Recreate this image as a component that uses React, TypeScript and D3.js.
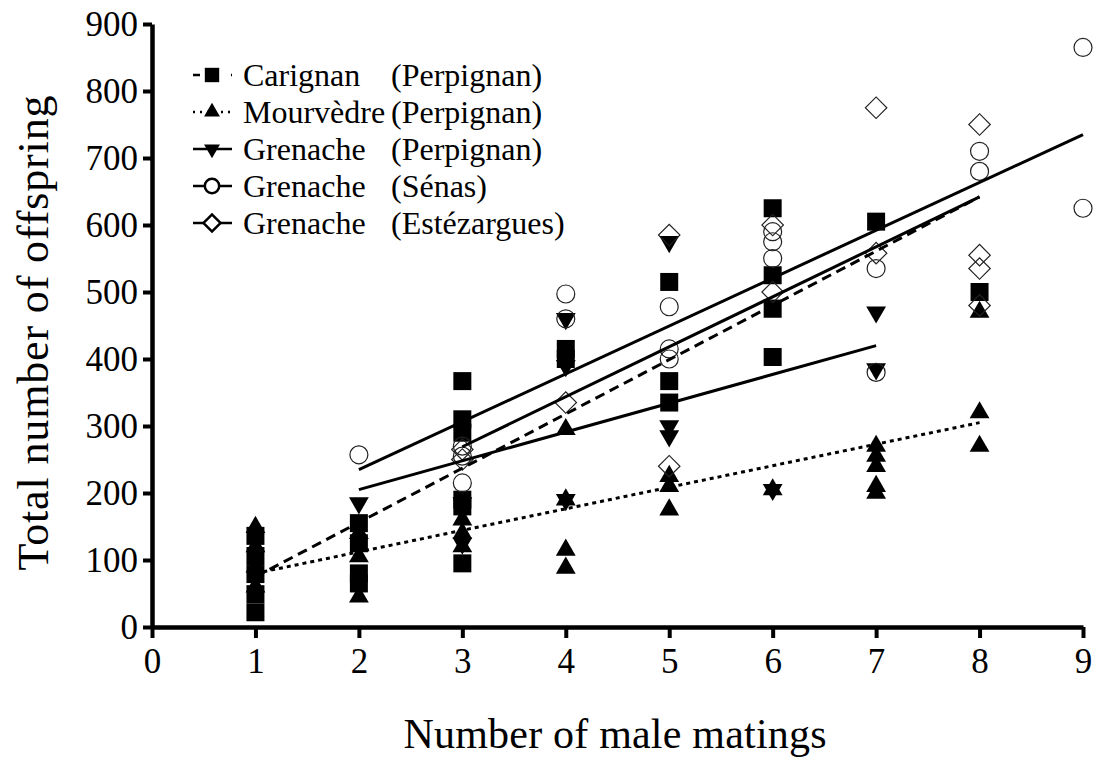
import React, { useEffect, useRef } from 'react';
import * as d3 from 'd3';

const W = 1099;
const H = 760;

// points: [male matings, total offspring]
const carignan = [
  [1, 136], [1, 106], [1, 79], [1, 49], [1, 22],
  [2, 155], [2, 125], [2, 80], [2, 65],
  [3, 367], [3, 310], [3, 290], [3, 190], [3, 180], [3, 95],
  [4, 415], [4, 400],
  [5, 515], [5, 367], [5, 335],
  [6, 625], [6, 525], [6, 475], [6, 403],
  [7, 605],
  [8, 500],
];
const mourvedre = [
  [1, 149], [1, 120], [1, 90], [1, 60],
  [2, 140], [2, 105], [2, 45],
  [3, 160], [3, 140], [3, 120],
  [4, 295], [4, 190], [4, 115], [4, 88],
  [5, 225], [5, 210], [5, 175],
  [6, 205],
  [7, 270], [7, 255], [7, 240], [7, 210], [7, 200],
  [8, 470], [8, 320], [8, 270],
];
const grenachePerpignan = [
  [2, 185],
  [3, 185], [3, 125],
  [4, 460], [4, 390], [4, 190],
  [5, 575], [5, 300], [5, 285],
  [6, 480], [6, 205],
  [7, 470], [7, 385],
];
const grenacheSenas = [
  [2, 257],
  [3, 270], [3, 255], [3, 215],
  [4, 497], [4, 460],
  [5, 478], [5, 415], [5, 400],
  [6, 590], [6, 575], [6, 550],
  [7, 535], [7, 380],
  [8, 710], [8, 680],
  [9, 865], [9, 625],
];
const grenacheEstezargues = [
  [3, 265], [3, 250],
  [4, 335],
  [5, 585], [5, 240],
  [6, 600], [6, 500],
  [7, 775], [7, 558],
  [8, 750], [8, 555], [8, 535], [8, 480],
];

// regression lines, start and end as drawn in the figure
const fitCarignan = [[1, 75], [8, 642]];
const fitMourvedre = [[1, 80], [8, 305]];
const fitGrenachePerpignan = [[2, 205], [7, 420]];
const fitGrenacheSenas = [[2, 235], [9, 735]];
const fitGrenacheEstezargues = [[3, 269], [8, 642]];

const cultivars = ['Carignan', 'Mourvèdre', 'Grenache', 'Grenache', 'Grenache'];
const sites = ['(Perpignan)', '(Perpignan)', '(Perpignan)', '(Sénas)', '(Estézargues)'];

const xTicks = [0, 1, 2, 3, 4, 5, 6, 7, 8, 9];
const yTicks = [0, 100, 200, 300, 400, 500, 600, 700, 800, 900];

const FONT = '"Liberation Serif", "Times New Roman", serif';

const App = () => {
  const ref = useRef<SVGSVGElement>(null);

  useEffect(() => {
    const svg = d3.select(ref.current);
    svg.selectAll('*').remove();

    const x = d3.scaleLinear().domain([0, 9]).range([152, 1083]);
    const y = d3.scaleLinear().domain([0, 900]).range([627, 24]);

    const series = [
      { pts: carignan, fit: fitCarignan, shape: 'square', filled: true, dash: '10,6' },
      { pts: mourvedre, fit: fitMourvedre, shape: 'up', filled: true, dash: '4,4' },
      { pts: grenachePerpignan, fit: fitGrenachePerpignan, shape: 'down', filled: true, dash: null },
      { pts: grenacheSenas, fit: fitGrenacheSenas, shape: 'circle', filled: false, dash: null },
      { pts: grenacheEstezargues, fit: fitGrenacheEstezargues, shape: 'diamond', filled: false, dash: null },
    ];

    const symbolPath = (shape: string, k = 1) => {
      if (shape === 'square') return d3.symbol(d3.symbolSquare, 324 * k * k)();
      if (shape === 'up' || shape === 'down') return d3.symbol(d3.symbolTriangle, 170 * k * k)();
      if (shape === 'circle') return d3.symbol(d3.symbolCircle, 254 * k * k)();
      return d3.symbol(d3.symbolSquare, 230 * k * k)();
    };
    const rot = (shape: string) => (shape === 'down' ? 180 : shape === 'diamond' ? 45 : 0);

    // axes
    const yAxis = svg.append('g')
      .attr('transform', 'translate(152,0)')
      .call(d3.axisLeft(y).tickValues(yTicks).tickSize(9).tickSizeOuter(0).tickPadding(5));
    const xAxis = svg.append('g')
      .attr('transform', 'translate(0,627)')
      .call(d3.axisBottom(x).tickValues(xTicks).tickSize(11).tickSizeOuter(0).tickPadding(10));

    [yAxis, xAxis].forEach(g => {
      g.select('.domain').attr('stroke', '#000').attr('stroke-width', 4.5);
      g.selectAll('.tick line').attr('stroke', '#000').attr('stroke-width', 4);
      g.selectAll('.tick text')
        .attr('fill', '#000')
        .style('font-family', FONT)
        .style('font-size', '35px');
    });

    // markers
    const marks = svg.append('g');
    series.forEach(s => {
      marks.append('g')
        .selectAll('path')
        .data(s.pts)
        .join('path')
        .attr('d', symbolPath(s.shape))
        .attr('transform', d => `translate(${x(d[0])},${y(d[1])}) rotate(${rot(s.shape)})`)
        .attr('fill', s.filled ? '#000' : 'none')
        .attr('stroke', s.filled ? 'none' : '#222')
        .attr('stroke-width', 1.2);
    });

    // fit lines
    const line = d3.line<number[]>().x(d => x(d[0])).y(d => y(d[1]));
    series.forEach(s => {
      svg.append('path')
        .attr('d', line(s.fit))
        .attr('fill', 'none')
        .attr('stroke', '#000')
        .attr('stroke-width', 3)
        .attr('stroke-dasharray', s.dash);
    });

    // legend
    const legend = svg.append('g');
    series.forEach((s, i) => {
      const ly = 75 + i * 37;
      const row = legend.append('g').attr('transform', `translate(0,${ly})`);
      row.append('line')
        .attr('x1', 193).attr('x2', 232)
        .attr('stroke', '#000').attr('stroke-width', 2.5)
        .attr('stroke-dasharray', s.dash === '4,4' ? '2,5' : s.dash === '10,6' ? '7,12' : null);
      row.append('path')
        .attr('d', symbolPath(s.shape, 0.8))
        .attr('transform', `translate(212,0) rotate(${rot(s.shape)})`)
        .attr('fill', s.filled ? '#000' : '#fff')
        .attr('stroke', s.filled ? 'none' : '#000')
        .attr('stroke-width', 2.5);
      row.append('text')
        .attr('x', 243).attr('dy', '0.35em')
        .style('font-family', FONT).style('font-size', '32px')
        .text(cultivars[i]);
      row.append('text')
        .attr('x', 391).attr('dy', '0.35em')
        .style('font-family', FONT).style('font-size', '32px')
        .text(sites[i]);
    });

    // axis titles
    svg.append('text')
      .attr('x', 615).attr('y', 748)
      .attr('text-anchor', 'middle')
      .attr('textLength', 423)
      .style('font-family', FONT).style('font-size', '42px')
      .text('Number of male matings');

    svg.append('text')
      .attr('transform', 'translate(48,333) rotate(-90)')
      .attr('text-anchor', 'middle')
      .attr('textLength', 475)
      .style('font-family', FONT).style('font-size', '44px')
      .text('Total number of offspring');
  }, []);

  return (
    <svg
      ref={ref}
      width={W}
      height={H}
      style={{ position: 'absolute', left: 0, top: 0, background: '#fff' }}
    />
  );
};

export default App;
